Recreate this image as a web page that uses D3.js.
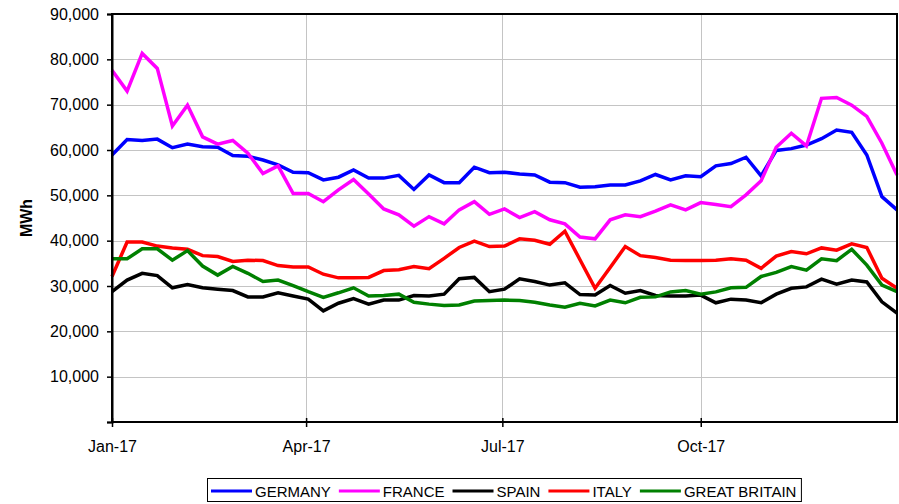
<style>
body{margin:0;background:#fff;}
text{font-family:"Liberation Sans",Arial,sans-serif;fill:#000;}
</style>
<body>
<svg id='svg'></svg>
</body>
<script type="text/javascript" src='https://cdnjs.cloudflare.com/ajax/libs/d3/7.8.5/d3.min.js'></script>
<script>
// weekly values, MWh, first week starting 1 Jan 2017
var firstWeek = new Date(2017, 0, 1)
var germany = [58900,62300,62100,62400,60500,61300,60700,60600,58800,58600,57800,56700,55100,55000,53400,54000,55600,53800,53800,54400,51300,54500,52800,52800,56200,55000,55100,54700,54500,52900,52800,51800,51900,52300,52300,53200,54600,53400,54300,54100,56500,57000,58400,54300,59900,60300,61100,62500,64400,63900,58900,49700,46800]
var france = [77600,73000,81300,78000,65300,69900,62900,61300,62100,59300,54800,56500,50400,50400,48600,51200,53500,50300,47000,45700,43200,45300,43700,46800,48600,45800,47000,45100,46400,44600,43700,40800,40400,44600,45700,45300,46500,47900,46800,48400,48000,47500,50100,53200,60600,63700,60900,71400,71600,69900,67400,61500,54500]
var spain = [28750,31300,32800,32300,29600,30300,29600,29300,29000,27600,27600,28500,27800,27100,24500,26200,27200,26000,26900,26900,27900,27800,28200,31600,31900,28750,29300,31600,31000,30200,30700,28100,28000,30100,28400,29000,27900,27800,27800,28000,26300,27100,26900,26300,28200,29500,29800,31500,30400,31300,30900,26500,24000]
var italy = [32100,39700,39700,38800,38400,38100,36700,36500,35400,35700,35600,34500,34200,34200,32600,31800,31800,31900,33400,33600,34300,33800,36100,38500,39900,38700,38800,40400,40100,39200,42100,35800,29500,34100,38700,36700,36300,35700,35600,35600,35700,36000,35700,33900,36600,37600,37100,38400,37900,39300,38500,31700,29500]
var britain = [36000,36000,38200,38200,35700,37800,34400,32400,34300,32800,31000,31300,30100,28750,27500,28500,29600,27800,27900,28200,26400,26000,25700,25800,26700,26800,26900,26800,26400,25800,25300,26200,25600,26900,26300,27500,27600,28700,29000,28200,28700,29600,29700,32100,33000,34300,33500,36000,35600,38100,34600,30200,28750]
var seriesNames = ['GERMANY','FRANCE','SPAIN','ITALY','GREAT BRITAIN']
var seriesColors = ['#0000ff','#ff00ff','#000000','#ff0000','#008000']
var xTicks = [new Date(2017,0,1), new Date(2017,3,1), new Date(2017,6,1), new Date(2017,9,1)]
var yTicks = [0,10000,20000,30000,40000,50000,60000,70000,80000,90000]

var allSeries = [germany, france, spain, italy, britain]
var dates = germany.map(function(d,i){ return d3.timeDay.offset(firstWeek, 7*i) })

var width = 899, height = 504
var margin = {top: 14, right: 2, bottom: 82, left: 112}
var xScale = d3.scaleTime()
    .domain([firstWeek, dates[dates.length-1]])
    .range([margin.left, width-margin.right])
var yScale = d3.scaleLinear()
    .domain([0, 90000])
    .range([height-margin.bottom, margin.top])

var chart = d3.select('#svg')
  .attr('width', width)
  .attr('height', height)

// gridlines
chart.append('g').selectAll('line')
  .data(yTicks.slice(1))
  .enter().append('line')
  .attr('x1', margin.left).attr('x2', width-margin.right)
  .attr('y1', function(d){ return Math.round(yScale(d))+0.5 })
  .attr('y2', function(d){ return Math.round(yScale(d))+0.5 })
  .style('stroke', '#c4c4c4')
chart.append('g').selectAll('line')
  .data(xTicks.slice(1))
  .enter().append('line')
  .attr('x1', function(d){ return Math.round(xScale(d))+0.5 })
  .attr('x2', function(d){ return Math.round(xScale(d))+0.5 })
  .attr('y1', margin.top).attr('y2', height-margin.bottom)
  .style('stroke', '#c4c4c4')

// series
var line = d3.line()
  .x(function(d,i){ return xScale(dates[i]) })
  .y(function(d){ return yScale(d) })
chart.append('g').selectAll('path')
  .data(allSeries)
  .enter().append('path')
  .attr('d', line)
  .style('fill', 'none')
  .style('stroke', function(d,i){ return seriesColors[i] })
  .style('stroke-width', 3.5)
  .style('stroke-linejoin', 'miter')

// frame
chart.append('rect')
  .attr('x', margin.left).attr('y', margin.top)
  .attr('width', width-margin.right-margin.left)
  .attr('height', height-margin.bottom-margin.top)
  .style('fill', 'none').style('stroke', '#000').style('stroke-width', 2)

var yAxis = d3.axisLeft(yScale)
  .tickValues(yTicks)
  .tickSize(5)
  .tickPadding(8)
  .tickFormat(function(d){ return d === 0 ? '' : d3.format(',')(d) })
chart.append('g').call(yAxis)
  .attr('transform', 'translate('+margin.left+',0)')
  .call(function(g){
    g.select('.domain').style('stroke-width', 2)
    g.selectAll('.tick line').style('stroke-width', 1.5)
    g.selectAll('text').style('font-size', '16px').attr('font-family', null)
  })

var xAxis = d3.axisBottom(xScale)
  .tickValues(xTicks)
  .tickSize(5)
  .tickPadding(14)
  .tickFormat(d3.timeFormat('%b-%y'))
chart.append('g').call(xAxis)
  .attr('transform', 'translate(0,'+(height-margin.bottom)+')')
  .call(function(g){
    g.select('.domain').remove()
    g.selectAll('.tick line').attr('y1', -4).style('stroke-width', 1.5)
    g.selectAll('text').style('font-size', '16px').attr('font-family', null)
  })

chart.append('text')
  .attr('transform', 'translate(32,218) rotate(-90)')
  .attr('text-anchor', 'middle')
  .style('font-size', '16px')
  .style('font-weight', 'bold')
  .text('MWh')

// legend
var legend = chart.append('g')
var lx = 211, ly = 491
seriesNames.forEach(function(name, i){
  legend.append('line')
    .attr('x1', lx).attr('x2', lx+41)
    .attr('y1', ly).attr('y2', ly)
    .style('stroke', seriesColors[i]).style('stroke-width', 3)
  var t = legend.append('text')
    .attr('x', lx+44).attr('y', ly+5.5)
    .style('font-size', '15px')
    .text(name)
  lx = lx + 44 + t.node().getComputedTextLength() + 8
})
legend.insert('rect', ':first-child')
  .attr('x', 207.5).attr('y', 478.5)
  .attr('width', lx-3-207.5).attr('height', 23)
  .style('fill', '#fff').style('stroke', '#000').style('stroke-width', 1)
</script>
